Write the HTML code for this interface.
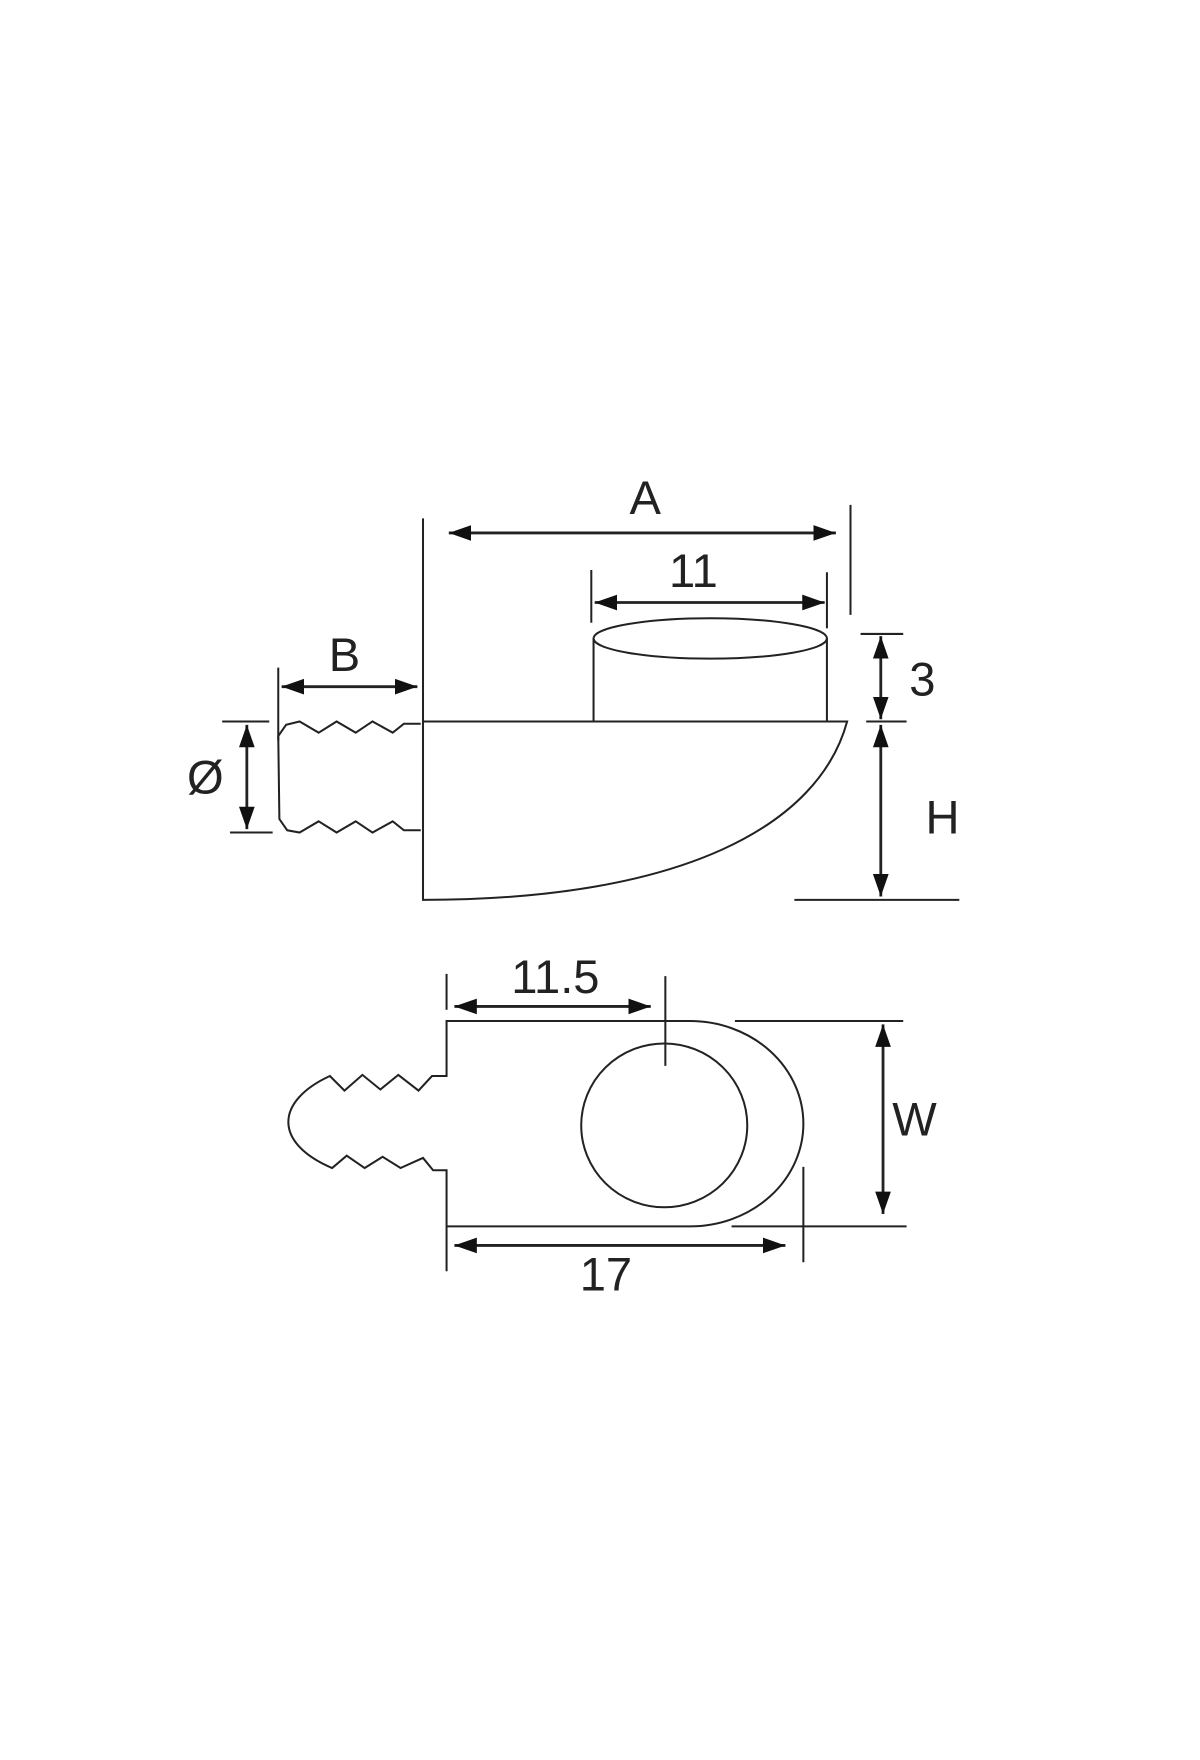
<!DOCTYPE html>
<html><head><meta charset="utf-8"><style>
html,body{margin:0;padding:0;background:#fff;}
svg{display:block;}
text{font-family:"Liberation Sans","DejaVu Sans",sans-serif;font-size:42px;fill:#222;}
</style></head><body>
<svg width="1200" height="1760" viewBox="0 0 1069.5 1568.6" xmlns="http://www.w3.org/2000/svg">
<defs>
<marker id="ah" viewBox="0 0 20 14" refX="20" refY="7" markerWidth="20" markerHeight="14" markerUnits="userSpaceOnUse" orient="auto-start-reverse">
<path d="M0,0 L20,7 L0,14 Z" fill="#111"/>
</marker>
</defs>
<g stroke="#222" stroke-width="1.8" fill="none">
<line x1="377" y1="462" x2="377" y2="802"/>
<line x1="758" y1="450" x2="758" y2="548"/>
<line x1="527" y1="508" x2="527" y2="555"/>
<line x1="737" y1="510" x2="737" y2="560"/>
<line x1="248" y1="595" x2="248" y2="660"/>
<line x1="767" y1="565" x2="805" y2="565"/>
<line x1="772" y1="643" x2="808" y2="643"/>
<line x1="708" y1="802" x2="855" y2="802"/>
<line x1="198" y1="643" x2="240" y2="643"/>
<line x1="205" y1="742" x2="243" y2="742"/>
<line x1="400" y1="475" x2="745" y2="475" marker-start="url(#ah)" marker-end="url(#ah)" stroke-width="2.5"/>
<line x1="530" y1="537" x2="735" y2="537" marker-start="url(#ah)" marker-end="url(#ah)" stroke-width="2.5"/>
<line x1="251" y1="612" x2="372" y2="612" marker-start="url(#ah)" marker-end="url(#ah)" stroke-width="2.5"/>
<line x1="785" y1="567" x2="785" y2="641" marker-start="url(#ah)" marker-end="url(#ah)" stroke-width="2.5"/>
<line x1="785" y1="646" x2="785" y2="799" marker-start="url(#ah)" marker-end="url(#ah)" stroke-width="2.5"/>
<line x1="220" y1="646" x2="220" y2="739" marker-start="url(#ah)" marker-end="url(#ah)" stroke-width="2.5"/>
<ellipse cx="633" cy="569" rx="104" ry="18"/>
<line x1="529" y1="569" x2="529" y2="643"/>
<line x1="737" y1="569" x2="737" y2="643"/>
<path d="M377,643 L755,643 C730,735 610,802 377,802 Z"/>
<path d="M375,645 L360,645 L350,653 L332,643 L317,653 L300,643 L284,653 L267,643 L255,646 L248,656 L249,730 L256,740 L267,742 L284,732 L300,742 L317,732 L332,742 L350,732 L360,740 L375,740"/>
<line x1="398" y1="868" x2="398" y2="900"/>
<line x1="593" y1="870" x2="593" y2="950"/>
<line x1="655" y1="910" x2="805" y2="910"/>
<line x1="652" y1="1093" x2="808" y2="1093"/>
<line x1="398" y1="1093" x2="398" y2="1133"/>
<line x1="716" y1="1040" x2="716" y2="1125"/>
<line x1="405" y1="897" x2="580" y2="897" marker-start="url(#ah)" marker-end="url(#ah)" stroke-width="2.5"/>
<line x1="405" y1="1110" x2="700" y2="1110" marker-start="url(#ah)" marker-end="url(#ah)" stroke-width="2.5"/>
<line x1="787" y1="913" x2="787" y2="1082" marker-start="url(#ah)" marker-end="url(#ah)" stroke-width="2.5"/>
<path d="M398,910 L615,910 A101,91.5 0 0 1 615,1093 L398,1093 L398,1043 L386,1043 L377,1032 L357,1041 L341,1031 L325,1041 L309,1030 L296,1041 C270,1030 257,1015 257,1000 C257,985 270,970 294,959 L307,972 L323,958 L339,971 L355,958 L373,972 L385,959 L398,959 Z"/>
<ellipse cx="592" cy="1003" rx="74" ry="73"/>
</g>
<text x="575" y="458" text-anchor="middle">A</text>
<text x="618" y="523" text-anchor="middle">11</text>
<text x="307" y="598" text-anchor="middle">B</text>
<text x="822" y="620" text-anchor="middle">3</text>
<text x="840" y="743" text-anchor="middle">H</text>
<text x="183" y="707" text-anchor="middle">Ø</text>
<text x="495" y="885" text-anchor="middle">11.5</text>
<text x="815" y="1012" text-anchor="middle">W</text>
<text x="540" y="1150" text-anchor="middle">17</text>
</svg>
</body></html>
